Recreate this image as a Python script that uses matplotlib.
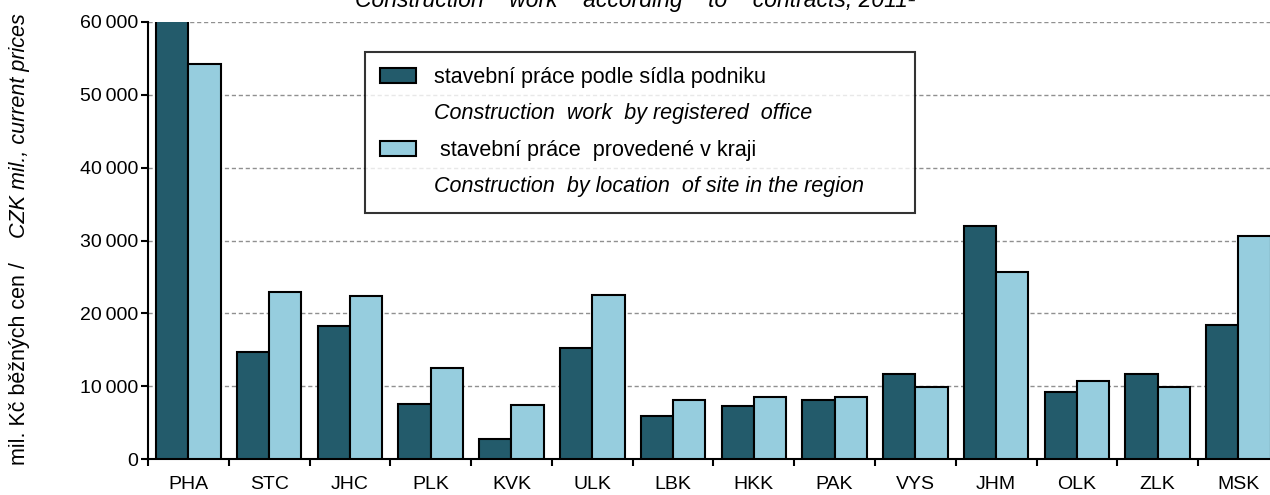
import numpy as np
import matplotlib
matplotlib.use("Agg")
import matplotlib.pyplot as plt
from matplotlib.patches import Patch
from matplotlib.ticker import FuncFormatter, FixedLocator

plt.rcParams['font.family'] = ['Liberation Sans', 'DejaVu Sans']

regions = ['PHA', 'STC', 'JHC', 'PLK', 'KVK', 'ULK', 'LBK', 'HKK', 'PAK', 'VYS', 'JHM', 'OLK', 'ZLK', 'MSK']
by_office = [66000, 14700, 18200, 7550, 2750, 15250, 5900, 7300, 8100, 11700, 32000, 9200, 11700, 18400]
by_site = [54300, 22900, 22400, 12500, 7400, 22500, 8100, 8500, 8500, 9900, 25700, 10700, 9900, 30600]

dark = '#235b6b'
light = '#96cdde'

fig = plt.figure(figsize=(12.7, 4.95), dpi=100)
ax = fig.add_axes([148/1270, 36/495, 1 - 148/1270, 437/495])

x = np.arange(len(regions))
w = 0.4
ax.bar(x - w/2, by_office, w, color=dark, edgecolor='black', linewidth=1.5, zorder=3)
ax.bar(x + w/2, by_site, w, color=light, edgecolor='black', linewidth=1.5, zorder=3)

ax.set_ylim(0, 60000)
ax.set_xlim(-0.5, 13.39)
ax.set_yticks(np.arange(0, 60001, 10000))
ax.yaxis.set_major_formatter(FuncFormatter(lambda v, p: f"{int(v):,}".replace(',', '\u2009')))
for yv in range(10000, 60001, 10000):
    ax.axhline(yv, color='#909090', linestyle='--', linewidth=1, dashes=(3, 2), zorder=1)

ax.set_xticks(x)
ax.set_xticklabels(regions)
ax.xaxis.set_minor_locator(FixedLocator(np.arange(-0.5, 14, 1)))
ax.tick_params(axis='x', which='major', length=0, pad=12, labelsize=14)
ax.tick_params(axis='x', which='minor', length=5, width=1.5, direction='out')
ax.tick_params(axis='y', length=5, width=1.5, direction='out', labelsize=14, pad=2)

for s in ['top', 'right']:
    ax.spines[s].set_visible(False)
for s in ['left', 'bottom']:
    ax.spines[s].set_linewidth(1.5)

# y label: Czech regular, English italic
fig.text(20/1270, 30/495, 'mil. Kč běžných cen /', rotation=90, ha='center', va='bottom',
         fontsize=15.5)
fig.text(20/1270, 1 - 13/495, 'CZK mil., current prices', rotation=90, ha='center', va='top',
         fontsize=15.5, style='italic')

fig.text(0.5, 1 - 7/495, 'Construction    work    according    to    contracts, 2011¹', ha='center',
         va='baseline', fontsize=16.5, style='italic')

blank = Patch(visible=False)
handles = [Patch(facecolor=dark, edgecolor='black', linewidth=1.5), blank,
           Patch(facecolor=light, edgecolor='black', linewidth=1.5), blank]
labels = ['stavební práce podle sídla podniku', 'Construction  work  by registered  office',
          ' stavební práce  provedené v kraji', 'Construction  by location  of site in the region']
leg = ax.legend(handles, labels, loc='upper left', mode='expand', borderaxespad=0,
                bbox_to_anchor=(217/1122, 0.570, 550/1122, 0.3616),
                fontsize=15.5, frameon=True, fancybox=False, edgecolor='black',
                handlelength=1.65, handleheight=0.75, handletextpad=0.85,
                labelspacing=0.72, borderpad=0.7)
leg.get_frame().set_linewidth(1.5)
leg.set_zorder(5)
for i in (1, 3):
    leg.get_texts()[i].set_style('italic')

fig.savefig('out.png', dpi=100)
